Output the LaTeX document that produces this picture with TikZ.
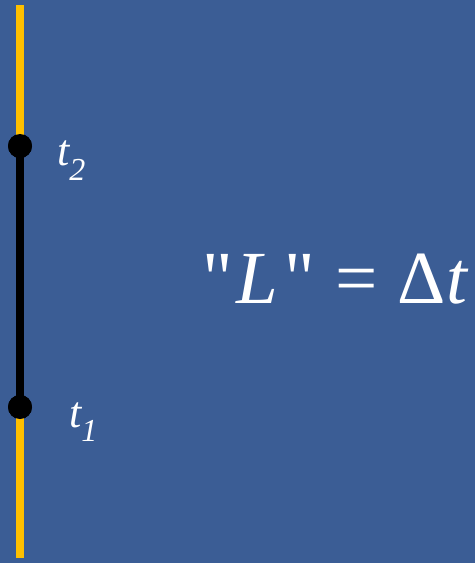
\documentclass[tikz,border=0pt]{standalone}
\usepackage{fontspec}
\newfontfamily\tms[Ligatures=TeXOff]{Liberation Serif}
\definecolor{bgblue}{HTML}{3B5D95}
\definecolor{gold}{HTML}{FFC000}
\tikzset{
  dotnode/.style={circle, fill=black, minimum size=24pt, inner sep=0pt},
  timeline/.style={line width=8pt, draw=gold},
  interval/.style={line width=8pt, draw=black},
  lbl/.style={text=white, inner sep=0pt, anchor=base west},
}
\begin{document}
\begin{tikzpicture}[x=1pt,y=-1pt]
\fill[bgblue] (0,0) rectangle (475,563);
\useasboundingbox (0,0) rectangle (475,563);
\coordinate (top) at (20,5);
\coordinate (bot) at (20,558);
\node[dotnode] (t2) at (20,146) {};
\node[dotnode] (t1) at (20,407) {};
\draw[timeline] (top) -- (bot);
\draw[interval] (t2.center) -- (t1.center);
\node[dotnode] at (t2) {};
\node[dotnode] at (t1) {};
\node[lbl] (l2) at (57,165) {\fontsize{44}{44}\selectfont\tms\itshape t\raisebox{-15pt}{\fontsize{32}{32}\selectfont 2}};
\node[lbl] (l1) at (69,427) {\fontsize{44}{44}\selectfont\tms\itshape t\raisebox{-14pt}{\fontsize{32}{32}\selectfont 1}};
\node[lbl] (eq) at (202,303) {\fontsize{75}{80}\selectfont\tms "\kern4pt\textit{L}\kern6pt"\kern20pt=\kern20pt Δ\kern1pt\textit{t}};
\end{tikzpicture}
\end{document}
